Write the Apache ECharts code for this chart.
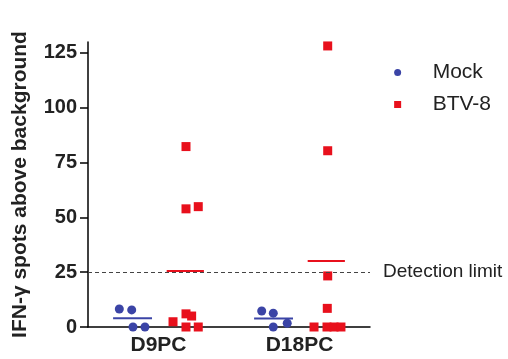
<!DOCTYPE html>
<html>
<head>
<meta charset="utf-8">
<script src="https://cdn.jsdelivr.net/npm/echarts@6/dist/echarts.min.js"></script>
<style>
  html, body { margin: 0; padding: 0; background: #fff; }
  #chart { width: 508px; height: 359px; }
</style>
</head>
<body>
<div id="chart"></div>
<script>
// groups on the x axis
const categories = ['D9PC', 'D18PC'];
const yTicks = [0, 25, 50, 75, 100, 125];
const detectionLimit = 25;

// spots per animal, one row per time point
const mockValues = [
  [8.2, 7.8, 0, 0],
  [7.3, 6.3, 0, 1.7]
];
const btvValues = [
  [82.3, 53.9, 54.9, 2.4, 6.0, 5.0, 0, 0],
  [128.2, 80.4, 23.3, 8.5, 0, 0, 0, 0]
];
// horizontal scatter (offset from the group centre, in group widths)
const mockJitter = [
  [-0.278, -0.19, -0.181, -0.096],
  [-0.268, -0.186, -0.186, -0.087]
];
const btvJitter = [
  [0.195, 0.195, 0.282, 0.103, 0.195, 0.235, 0.195, 0.282],
  [0.2, 0.2, 0.2, 0.197, 0.103, 0.195, 0.245, 0.294]
];

const BLUE = '#3b44a6';
const RED = '#e8101c';
const FONT = 'Liberation Sans, Arial, sans-serif';

const mean = arr => arr.reduce((a, b) => a + b, 0) / arr.length;

// build [x, y] points, group i sits at x = i + 0.5
function points(values, jitter) {
  const out = [];
  values.forEach((row, i) => {
    row.forEach((v, j) => out.push([i + 0.5 + jitter[i][j], v]));
  });
  return out;
}

function meanSeries(name, values, offset, halfWidth, color) {
  return {
    name: name,
    type: 'custom',
    xAxisIndex: 1,
    z: 3,
    encode: { x: 0, y: 2 },
    data: values.map((row, i) => [i + 0.5 + offset, halfWidth, mean(row)]),
    renderItem: function (params, api) {
      const x = api.value(0), hw = api.value(1), y = api.value(2);
      const p1 = api.coord([x - hw, y]);
      const p2 = api.coord([x + hw, y]);
      return {
        type: 'line',
        shape: { x1: p1[0], y1: p1[1], x2: p2[0], y2: p2[1] },
        style: { stroke: color, lineWidth: 2 }
      };
    }
  };
}

const chart = echarts.init(document.getElementById('chart'));

const option = {
  animation: false,
  textStyle: { fontFamily: FONT },
  grid: { left: 88, right: 138, top: 42, bottom: 32 },
  legend: {
    orient: 'vertical',
    right: 12,
    top: 57,
    itemWidth: 60,
    itemHeight: 7,
    itemGap: 11,
    selectedMode: false,
    textStyle: { fontSize: 21, color: '#222', fontFamily: FONT, lineHeight: 20 },
    data: [
      { name: 'Mock', icon: 'circle' },
      { name: 'BTV-8', icon: 'path://M0,0H1V1H0Z' }
    ]
  },
  xAxis: [
    {
      type: 'category',
      data: categories,
      boundaryGap: true,
      axisLine: { lineStyle: { color: '#000', width: 1.5 } },
      axisTick: { alignWithLabel: true, length: 7, lineStyle: { color: '#000', width: 1.5 } },
      axisLabel: { fontSize: 21, fontWeight: 'bold', color: '#222', margin: 8, fontFamily: FONT },
      splitLine: { show: false }
    },
    {
      type: 'value',
      min: 0,
      max: 2,
      show: false
    }
  ],
  yAxis: {
    type: 'value',
    min: 0,
    max: 130,
    interval: 25,
    name: 'IFN-γ spots above background',
    nameLocation: 'middle',
    nameGap: 57,
    nameTextStyle: { fontSize: 21, fontWeight: 'bold', color: '#222', fontFamily: FONT },
    axisLine: { show: true, lineStyle: { color: '#000', width: 1.5 } },
    axisTick: { show: true, length: 8, customValues: yTicks, lineStyle: { color: '#000', width: 1.5 } },
    axisLabel: { fontSize: 20, fontWeight: 'bold', color: '#222', margin: 11, customValues: yTicks, fontFamily: FONT },
    splitLine: { show: false }
  },
  series: [
    {
      name: 'limit',
      type: 'scatter',
      xAxisIndex: 1,
      data: [],
      z: 1,
      markLine: {
        silent: true,
        symbol: 'none',
        lineStyle: { color: '#444', type: [4, 3], width: 1 },
        label: {
          position: 'end',
          distance: 13,
          formatter: 'Detection limit',
          fontSize: 19,
          color: '#222',
          fontFamily: FONT
        },
        data: [{ yAxis: detectionLimit }]
      }
    },
    meanSeries('Mock mean', mockValues, -0.184, 0.138, BLUE),
    meanSeries('BTV-8 mean', btvValues, 0.19, 0.132, RED),
    {
      name: 'Mock',
      type: 'scatter',
      xAxisIndex: 1,
      symbol: 'circle',
      symbolSize: 9,
      z: 4,
      itemStyle: { color: BLUE, opacity: 1 },
      data: points(mockValues, mockJitter)
    },
    {
      name: 'BTV-8',
      type: 'scatter',
      xAxisIndex: 1,
      symbol: 'rect',
      symbolSize: 9,
      z: 4,
      itemStyle: { color: RED, opacity: 1 },
      data: points(btvValues, btvJitter)
    }
  ]
};

chart.setOption(option);
window.addEventListener('resize', () => chart.resize());
</script>
</body>
</html>
